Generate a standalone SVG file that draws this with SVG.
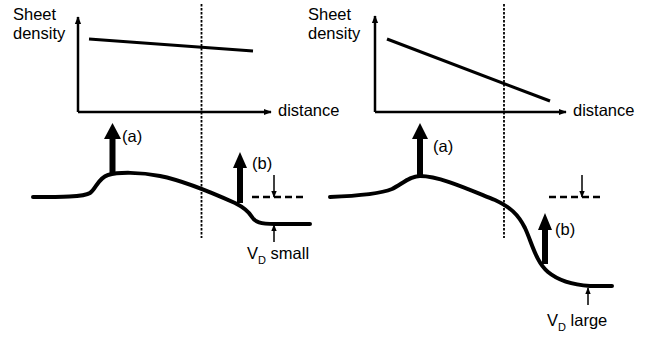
<svg xmlns="http://www.w3.org/2000/svg" width="647" height="337" viewBox="0 0 647 337">
<defs>
<marker id="ax" viewBox="0 0 10 10" refX="9" refY="5" markerWidth="8" markerHeight="8" markerUnits="userSpaceOnUse" orient="auto"><path d="M0,1 L10,5 L0,9 Z" fill="#000"/></marker>
<marker id="sm" viewBox="0 0 10 10" refX="9" refY="5" markerWidth="7" markerHeight="7" markerUnits="userSpaceOnUse" orient="auto"><path d="M0,1 L10,5 L0,9 Z" fill="#000"/></marker>
</defs>
<style>
text{font-family:"Liberation Sans",Arial,sans-serif;font-size:16.5px;fill:#000}
.sub{font-size:11px}
.axis{stroke:#000;stroke-width:2.5;fill:none}
.dens{stroke:#000;stroke-width:3;fill:none}
.dot{stroke:#000;stroke-width:1.8;stroke-dasharray:2.5,1.5;fill:none}
.band{stroke:#000;stroke-width:4;fill:none;stroke-linecap:round;stroke-linejoin:round}
.dash{stroke:#000;stroke-width:2.5;stroke-dasharray:7,4;fill:none}
.thin{stroke:#000;stroke-width:1.5;fill:none}
.big{fill:#000}
</style>
<rect width="647" height="337" fill="#fff"/>
<g id="left-plot">
<text x="13" y="20">Sheet</text>
<text x="13" y="38.5">density</text>
<text x="278" y="116">distance</text>
<path class="axis" d="M78,112 L78,17" marker-end="url(#ax)"/>
<path class="axis" d="M78,112 L271,112" marker-end="url(#ax)"/>
<line class="dens" x1="89" y1="39" x2="253" y2="51"/>
</g>
<g id="right-plot">
<text x="308" y="20">Sheet</text>
<text x="308" y="38.5">density</text>
<text x="573" y="116">distance</text>
<path class="axis" d="M375,112 L375,16" marker-end="url(#ax)"/>
<path class="axis" d="M375,112 L566,112" marker-end="url(#ax)"/>
<line class="dens" x1="387" y1="39" x2="550" y2="101"/>
</g>
<g id="dividers">
<line class="dot" x1="201.5" y1="4" x2="201.5" y2="238"/>
<line class="dot" x1="504" y1="4" x2="504" y2="238"/>
</g>
<g id="left-band">
<path class="band" d="M33,197 C60,197 84,197 90,193 C96,189 98,178 108,175 C118,172 140,172 160,176 C185,181 215,194 235,203 C245,208 249,212 252,217 C255,222 260,224 275,224 L310,224"/>
<path class="big" d="M109.5,174 L109.5,139 L104,139 L112.5,123 L121,139 L115.5,139 L115.5,174 Z"/>
<text x="122" y="142">(a)</text>
<path class="big" d="M237,203 L237,168 L233,168 L240,152 L247,168 L243,168 L243,203 Z"/>
<text x="252" y="169">(b)</text>
<line class="dash" x1="252" y1="197" x2="305" y2="197"/>
<path class="thin" d="M274,175 L274,197" marker-end="url(#sm)"/>
<path class="thin" d="M274,242 L274,225" marker-end="url(#sm)"/>
<text x="247" y="259">V<tspan class="sub" dy="5">D</tspan><tspan dy="-5"> small</tspan></text>
</g>
<g id="right-band">
<path class="band" d="M330,197 C355,196 380,194 392,189 C402,184 410,176 420,176 C440,176 470,190 495,200 C510,207 518,214 525,228 C532,243 536,262 548,272 C560,282 575,285 590,286 L612,286"/>
<path class="big" d="M417,175 L417,139 L412,139 L420,123 L428,139 L423,139 L423,175 Z"/>
<text x="433" y="152">(a)</text>
<path class="big" d="M542,264 L542,230 L538,230 L545,213 L552,230 L548,230 L548,264 Z"/>
<text x="555" y="235">(b)</text>
<line class="dash" x1="549" y1="197" x2="602" y2="197"/>
<path class="thin" d="M582,175 L582,197" marker-end="url(#sm)"/>
<path class="thin" d="M588,305 L588,288" marker-end="url(#sm)"/>
<text x="547" y="326">V<tspan class="sub" dy="5">D</tspan><tspan dy="-5"> large</tspan></text>
</g>
</svg>
